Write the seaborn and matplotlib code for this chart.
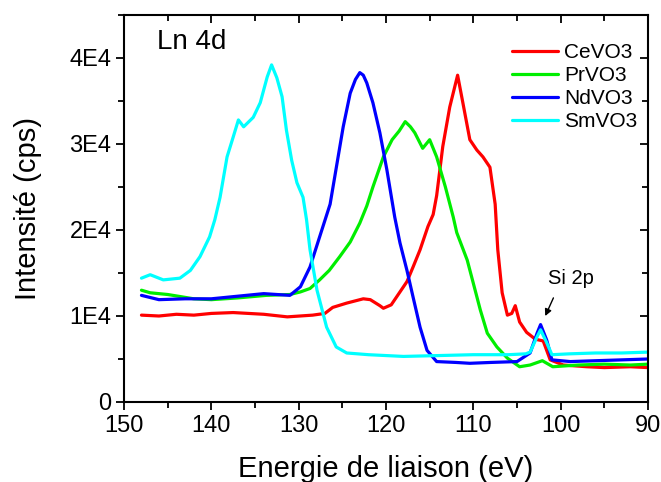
import numpy as np
import pandas as pd
import seaborn as sns
import matplotlib
matplotlib.use("Agg")
import matplotlib.pyplot as plt
from matplotlib.ticker import MultipleLocator

# values (binding energy in eV, intensity in cps)
ce_energy = [148, 146, 144, 142, 140, 137.5, 134, 131.3, 128.4, 127, 126.1, 124.5, 122.6, 121.8,
             120.7, 120.3, 119.4, 118.4, 117.6, 116.9, 116.1, 115.2, 114.6, 114.2, 113.5, 112.7,
             111.8, 111.2, 110.4, 109.6, 108.9, 108.1, 107.5, 107.2, 106.7, 106.1, 105.6, 105.2,
             104.7, 103.9, 102.9, 102.0, 101.2, 99.7, 97, 95, 92, 90]
ce_counts = [10100, 10000, 10200, 10100, 10300, 10400, 10200, 9900, 10100, 10300, 11000, 11500,
             12000, 11900, 11200, 10900, 11300, 12800, 14000, 15700, 17700, 20400, 21800, 24000,
             29700, 34300, 38000, 34800, 30500, 29300, 28500, 27300, 23000, 17700, 12700, 10100,
             10300, 11200, 9300, 8100, 7300, 7100, 4900, 4300, 4100, 4000, 4100, 4000]

pr_energy = [148, 147, 145, 142, 140, 137, 133.7, 131, 129.8, 128.7, 127.6, 126.5, 125.3, 124.1,
             123, 122.2, 121.5, 120.3, 119.3, 118.5, 117.8, 117.2, 116.7, 115.8, 115.0, 114.2,
             113.2, 112.3, 111.9, 110.7, 110.0, 109.2, 108.4, 107.3, 106.1, 104.7, 103.5, 102.1,
             100.9, 98, 95, 92, 90]
pr_counts = [13000, 12700, 12500, 12000, 11900, 12100, 12400, 12500, 12800, 13200, 14200, 15300,
             16900, 18600, 20800, 22800, 25000, 28500, 30500, 31500, 32600, 32000, 31300, 29500,
             30500, 28500, 25000, 21500, 19700, 16500, 13800, 10700, 8000, 6400, 5100, 4100, 4300,
             4800, 4100, 4300, 4400, 4300, 4400]

nd_energy = [148, 146, 143, 140, 137, 134, 131, 129.8, 128.7, 127.6, 126.4, 125.6, 124.9, 124.1,
             123.5, 123, 122.6, 122.2, 121.5, 120.7, 119.9, 119.0, 118.4, 117.6, 116.9, 116.1,
             115.3, 114.2, 112, 110.4, 108, 105, 103.5, 102.7, 102.3, 101.6, 101.0, 98.9, 96, 93, 90]
nd_counts = [12400, 11900, 12000, 12000, 12300, 12600, 12400, 13400, 15700, 19200, 23000, 27800,
             32000, 35900, 37500, 38300, 38000, 37100, 34800, 31300, 27000, 21500, 18500, 15300,
             12200, 8700, 6000, 4700, 4600, 4500, 4600, 4700, 5700, 8000, 9000, 7200, 4900, 4700,
             4800, 4900, 5000]

sm_energy = [148, 147, 145.5, 143.6, 142.4, 141.3, 140.2, 139.6, 139, 138.2, 137.5, 136.9, 136.3,
             135.2, 134.4, 133.6, 133.1, 132.5, 131.9, 131.4, 130.8, 130.2, 129.5, 129.1, 128.7,
             127.9, 126.8, 125.7, 124.5, 122, 118, 114, 110, 106, 104, 103.5, 102.7, 102.3, 101.6,
             101.0, 99, 96, 93, 90]
sm_counts = [14400, 14800, 14200, 14400, 15300, 16900, 19200, 21200, 23800, 28500, 30800, 32800,
             32000, 33100, 34800, 37800, 39200, 37700, 35500, 31600, 28100, 25500, 23800, 21200,
             17700, 13000, 8700, 6400, 5700, 5500, 5300, 5400, 5500, 5500, 5600, 5800, 7600, 8400,
             6900, 5500, 5600, 5700, 5700, 5800]

samples = ["CeVO3", "PrVO3", "NdVO3", "SmVO3"]
colors = ["#ff0000", "#00ee00", "#0000ff", "#00ffff"]
ytick_values = [0, 10000, 20000, 30000, 40000]
ytick_labels = ["0", "1E4", "2E4", "3E4", "4E4"]
xtick_values = [150, 140, 130, 120, 110, 100, 90]

frames = []
for name, e, c in zip(samples, [ce_energy, pr_energy, nd_energy, sm_energy],
                      [ce_counts, pr_counts, nd_counts, sm_counts]):
    frames.append(pd.DataFrame({"E": e, "I": c, "sample": name}))
df = pd.concat(frames, ignore_index=True)

sns.set_theme(style="ticks")
plt.rcParams['font.family'] = ['Liberation Sans', 'DejaVu Sans']
plt.rcParams.update({"text.color": "black", "axes.labelcolor": "black",
                     "xtick.color": "black", "ytick.color": "black",
                     "axes.edgecolor": "black"})

fig = plt.figure(figsize=(6.61, 4.82), dpi=100)
ax = fig.add_axes([124 / 661, 1 - 402 / 482, 524 / 661, 387 / 482])

sns.lineplot(data=df, x="E", y="I", hue="sample", hue_order=samples,
             palette=dict(zip(samples, colors)), sort=False, estimator=None,
             linewidth=2.3, ax=ax)

ax.set_xlim(150, 90)
ax.set_ylim(0, 45000)
ax.set_xticks(xtick_values)
ax.set_xticklabels([str(v) for v in xtick_values])
ax.set_yticks(ytick_values)
ax.set_yticklabels(ytick_labels)
ax.xaxis.set_minor_locator(MultipleLocator(5))
ax.yaxis.set_minor_locator(MultipleLocator(5000))
ax.tick_params(which="major", direction="out", length=6, width=1.3, labelsize=17, pad=3,
               color="black", labelcolor="black")
ax.tick_params(which="minor", direction="out", length=4, width=1.3, color="black")
for s in ax.spines.values():
    s.set_linewidth(1.5)
    s.set_color("black")

# mirrored ticks on top and right, pointing inward
top = ax.secondary_xaxis("top")
top.set_xticks(xtick_values)
top.xaxis.set_minor_locator(MultipleLocator(5))
top.tick_params(which="both", direction="in", labeltop=False, width=1.3, color="black")
top.tick_params(which="major", length=6)
top.tick_params(which="minor", length=4)
right = ax.secondary_yaxis("right")
right.set_yticks(ytick_values)
right.yaxis.set_minor_locator(MultipleLocator(5000))
right.tick_params(which="both", direction="in", labelright=False, width=1.3, color="black")
right.tick_params(which="major", length=6)
right.tick_params(which="minor", length=4)

ax.set_xlabel("Energie de liaison (eV)", fontsize=21, labelpad=13, color="black")
ax.set_ylabel("Intensité (cps)", fontsize=21, labelpad=20, color="black")

ax.text(0.063, 0.93, "Ln 4d", transform=ax.transAxes, fontsize=20, va="center", ha="left",
        color="black")

ax.annotate("", xy=(101.9, 9700), xytext=(100.7, 12400),
            arrowprops=dict(arrowstyle="-|>", color="black", lw=1, mutation_scale=10))
ax.text(98.8, 14400, "Si 2p", fontsize=14.5, ha="center", va="center", color="black")

leg = ax.legend(frameon=False, loc="upper left", bbox_to_anchor=(0.74, 0.928), fontsize=15,
                handlelength=2.2, handletextpad=0.3, labelspacing=0.2, borderpad=0,
                borderaxespad=0)
for t in leg.get_texts():
    t.set_color("black")

fig.savefig("out.png", dpi=100)
